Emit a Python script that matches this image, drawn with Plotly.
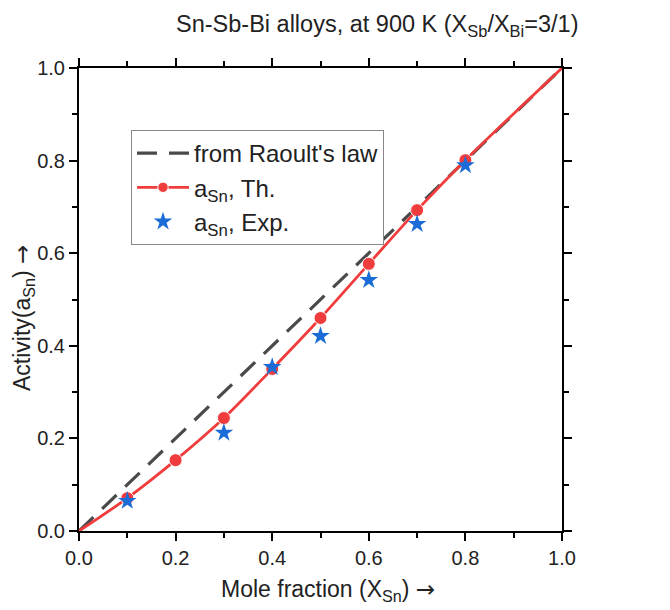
import plotly.graph_objects as go

# Data
x_raoult = [0.0, 1.0]
y_raoult = [0.0, 1.0]

x_th = [0.0, 0.1, 0.2, 0.3, 0.4, 0.5, 0.6, 0.7, 0.8, 1.0]
y_th = [0.0, 0.071, 0.153, 0.244, 0.350, 0.460, 0.577, 0.693, 0.801, 1.0]
th_marker_shown = [False, True, True, True, True, True, True, True, True, False]

x_exp = [0.1, 0.3, 0.4, 0.5, 0.6, 0.7, 0.8]
y_exp = [0.065, 0.212, 0.354, 0.421, 0.542, 0.663, 0.790]

x_ticks = [0.0, 0.2, 0.4, 0.6, 0.8, 1.0]
y_ticks = [0.0, 0.2, 0.4, 0.6, 0.8, 1.0]

FONT = "Liberation Sans, Arial, sans-serif"
ARROW = "<span style='font-family:DejaVu Sans'>→</span>"
RED = "#f03c3c"
BLUE = "#1c6cd8"
GRAY = "#4a4a4a"

fig = go.Figure()
fig.add_trace(go.Scatter(
    x=x_raoult, y=y_raoult, mode="lines", name="from Raoult's law",
    line=dict(color=GRAY, width=3.2, dash="20px,12px"),
))
fig.add_trace(go.Scatter(
    x=x_th, y=y_th, mode="lines+markers", name="a<sub>Sn</sub>, Th.",
    line=dict(color=RED, width=2.8, shape="spline", smoothing=0.8),
    marker=dict(color=RED, size=[13 if s else 0 for s in th_marker_shown],
                symbol="circle", opacity=1),
))
fig.add_trace(go.Scatter(
    x=x_exp, y=y_exp, mode="markers", name="a<sub>Sn</sub>, Exp.",
    marker=dict(color=BLUE, size=14, symbol="star"),
))

axis_common = dict(
    showline=True, linewidth=2, linecolor="black", mirror="ticks",
    ticks="outside", ticklen=8, tickwidth=2, tickcolor="black",
    showgrid=False, zeroline=False,
    tickfont=dict(family=FONT, size=20, color="#222"),
    minor=dict(ticks="outside", ticklen=5, tickwidth=2, tickcolor="black", dtick=0.1, showgrid=False),
)

fig.update_xaxes(range=[0, 1], tickvals=x_ticks, ticktext=[f"{v:.1f}" for v in x_ticks], **axis_common)
fig.update_yaxes(range=[0, 1], tickvals=y_ticks, ticktext=[f"{v:.1f}" for v in y_ticks], **axis_common)

L, R, T, B = 79, 108, 68, 79
W, H = 670, 610
pw = W - L - R
ph = H - T - B

def px_x(p):
    return (p - L) / pw

def px_y(p):
    return (H - B - p) / ph

fig.update_layout(
    width=W, height=H,
    margin=dict(l=L, r=R, t=T, b=B),
    paper_bgcolor="white", plot_bgcolor="white",
    font=dict(family=FONT, color="#222"),
    showlegend=True,
    legend=dict(
        x=px_x(131), y=px_y(130), xanchor="left", yanchor="top",
        bgcolor="white", bordercolor="#888", borderwidth=1,
        font=dict(family=FONT, size=24, color="#222"),
        tracegroupgap=0, itemwidth=52,
    ),
    annotations=[
        dict(text="Sn-Sb-Bi alloys, at 900 K (X<sub>Sb</sub>/X<sub>Bi</sub>=3/1)",
             x=px_x(377), y=px_y(26), xref="paper", yref="paper",
             xanchor="center", yanchor="middle", showarrow=False,
             font=dict(family=FONT, size=23.5, color="#222")),
        dict(text="Mole fraction (X<sub>Sn</sub>) " + ARROW,
             x=px_x(328), y=px_y(590), xref="paper", yref="paper",
             xanchor="center", yanchor="middle", showarrow=False,
             font=dict(family=FONT, size=23, color="#222")),
        dict(text="Activity(a<sub>Sn</sub>) " + ARROW,
             x=px_x(23), y=px_y(318), xref="paper", yref="paper",
             xanchor="center", yanchor="middle", showarrow=False, textangle=-90,
             font=dict(family=FONT, size=23, color="#222")),
    ],
)

fig.write_html("out.html")
